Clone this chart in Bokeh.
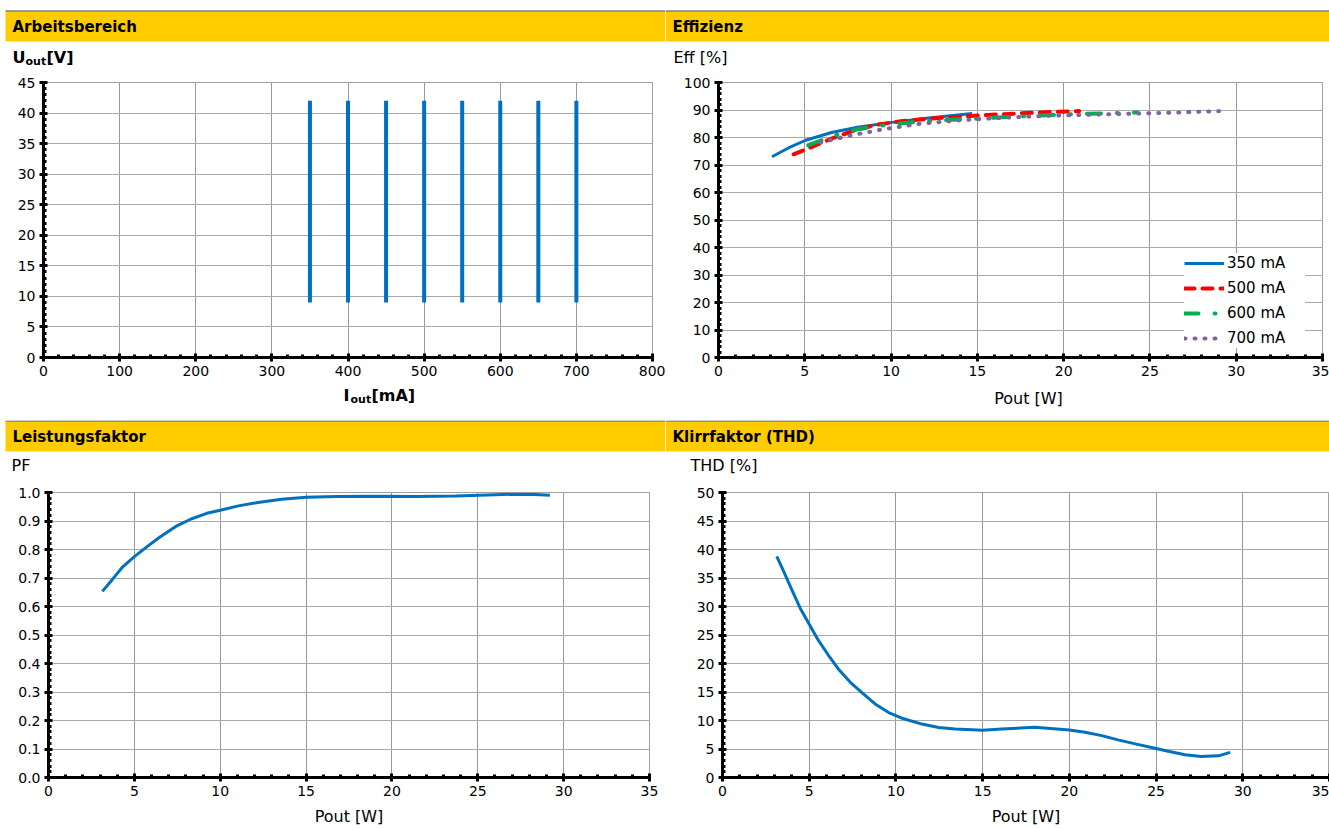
from bokeh.plotting import figure
from bokeh.models import Range1d, FixedTicker, Label, NumeralTickFormatter
from bokeh.layouts import column, row
from bokeh.embed import file_html
from bokeh.resources import INLINE

# ---------------- data ----------------
# Arbeitsbereich (operating window)
currents_ma = [350, 400, 450, 500, 550, 600, 650, 700]
u_min_v = [9, 9, 9, 9, 9, 9, 9, 9]
u_max_v = [42, 42, 42, 42, 42, 42, 42, 42]

# Effizienz
eff350_p = [3.1, 4.05, 5.05, 6.55, 8.05, 10.05, 12.05, 14.7]
eff350_e = [73.0, 76.2, 79.0, 81.8, 83.7, 85.5, 87.0, 88.7]
eff500_p = [4.35, 5.3, 6.55, 7.8, 9.05, 10.55, 12.55, 15.55, 18.55, 20.9]
eff500_e = [73.9, 76.3, 79.6, 82.4, 84.5, 85.9, 87.0, 88.2, 89.1, 89.6]
eff600_p = [5.2, 6.55, 8.05, 10.05, 12.05, 14.55, 17.55, 20.55, 24.3]
eff600_e = [77.2, 80.4, 83.0, 84.9, 86.0, 86.7, 87.7, 88.5, 89.1]
eff700_p = [5.9, 7.55, 9.55, 11.55, 14.05, 16.55, 19.05, 21.55, 24.05, 26.55, 29.0]
eff700_e = [78.2, 80.6, 83.0, 84.9, 86.3, 87.2, 87.9, 88.3, 88.7, 89.1, 89.6]
eff_labels = ["350 mA", "500 mA", "600 mA", "700 mA"]

# Leistungsfaktor
pf_p = [3.14, 3.72, 4.29, 5.0, 5.78, 6.47, 7.39, 8.3, 9.22, 10.0, 11.06, 12.2, 13.58, 15.0,
        16.8, 19.1, 21.4, 23.7, 26.0, 27.1, 28.3, 29.2]
pf_v = [0.653, 0.695, 0.737, 0.775, 0.812, 0.843, 0.880, 0.907, 0.927, 0.938, 0.953, 0.965, 0.976,
        0.983, 0.986, 0.987, 0.986, 0.988, 0.992, 0.994, 0.993, 0.990]

# Klirrfaktor (THD)
thd_p = [3.13, 3.52, 4.0, 4.48, 5.0, 5.54, 6.12, 6.69, 7.37, 8.04, 8.8, 9.58, 10.35, 11.5, 12.46,
         13.42, 15.0, 16.1, 18.0, 20.0, 20.9, 21.87, 22.8, 23.8, 25.0, 25.7, 26.67, 27.6, 28.6, 29.27]
thd_v = [38.8, 36.2, 32.9, 29.7, 26.9, 24.0, 21.4, 19.0, 16.7, 14.9, 12.9, 11.4, 10.4, 9.37, 8.78,
         8.49, 8.31, 8.5, 8.8, 8.35, 7.94, 7.35, 6.6, 5.9, 5.1, 4.6, 4.0, 3.7, 3.8, 4.4]

headers = ["Arbeitsbereich", "Effizienz", "Leistungsfaktor", "Klirrfaktor (THD)"]

# ---------------- style ----------------
FONT = "DejaVu Sans"
YELLOW = "#FFCC00"
BLUE = "#0070C0"
RED = "#FF0000"
GREEN = "#00B050"
PURPLE = "#8064A2"
GRID = "#A0A0A0"
LINE = "#404040"

LW = 665
RW = 664


def strip(width, height, y_line=None, y_top=None, y_bot=None, x0=0):
    s = figure(width=width, height=height, x_range=Range1d(0, width), y_range=Range1d(height, 0),
               x_axis_type=None, y_axis_type=None, output_backend="svg", toolbar_location=None,
               min_border=0, outline_line_color=None,
               background_fill_color="white", border_fill_color="white")
    s.grid.visible = False
    if y_top is not None:
        s.quad(left=[x0], right=[width], top=[y_top], bottom=[y_bot], fill_color=YELLOW, line_color=None)
        s.segment(x0=[x0], x1=[width], y0=[y_line], y1=[y_line], line_color=LINE, line_width=1)
    return s


def lab(s, x, y, text, size="16px", bold=False, align="left"):
    s.add_layout(Label(x=x, y=y, text=text, text_baseline="middle", text_align=align,
                       text_font=FONT, text_font_size=size,
                       text_font_style="bold" if bold else "normal", text_color="black"))


def chart(width, height, xr, yr, xt, xm, yt, ym, bl, br, bt, bb):
    p = figure(width=width, height=height, x_range=Range1d(*xr), y_range=Range1d(*yr),
               output_backend="svg", toolbar_location=None,
               min_border_left=bl, min_border_right=br, min_border_top=bt, min_border_bottom=bb,
               outline_line_color=GRID, background_fill_color="white", border_fill_color="white")
    xtick = FixedTicker(ticks=xt, minor_ticks=xm)
    ytick = FixedTicker(ticks=yt, minor_ticks=ym)
    p.xaxis.ticker = xtick
    p.yaxis.ticker = ytick
    p.xgrid.ticker = xtick
    p.ygrid.ticker = ytick
    for ax in (p.xaxis[0], p.yaxis[0]):
        ax.axis_line_width = 3
        ax.axis_line_color = "black"
        ax.major_tick_in = 4
        ax.major_tick_out = 4
        ax.major_tick_line_width = 3
        ax.major_tick_line_color = "black"
        ax.minor_tick_in = 3
        ax.minor_tick_out = 0
        ax.minor_tick_line_width = 3
        ax.minor_tick_line_color = "black"
        ax.major_label_text_font = FONT
        ax.major_label_text_font_size = "14px"
        ax.major_label_text_color = "black"
        ax.major_label_standoff = 4
        ax.axis_label_text_font = FONT
        ax.axis_label_text_font_size = "16px"
        ax.axis_label_text_font_style = "normal"
        ax.axis_label_text_color = "black"
        ax.axis_label_standoff = 8
    p.xgrid.grid_line_color = "#999999"
    p.ygrid.grid_line_color = "#AAAAAA"
    return p


xt = list(range(0, 36, 5))
xm = list(range(0, 36, 1))

# ================= band 1 =================
s1 = strip(LW, 72, 10.5, 11, 41, 5)
lab(s1, 12, 26, headers[0], "15px", True)
lab(s1, 12, 57, "U", "16px", True)
lab(s1, 25, 61, "out", "11px", True)
lab(s1, 46, 57, "[V]", "16px", True)

s2 = strip(RW, 72, 10.5, 11, 41, 0)
lab(s2, 7, 26, headers[1], "15px", True)
lab(s2, 8, 57, "Eff [%]", "16px")

# ---------- Arbeitsbereich ----------
p1 = chart(LW, 313, (0, 800), (0, 45), list(range(0, 801, 100)), list(range(0, 801, 20)),
           list(range(0, 46, 5)), list(range(0, 46, 1)), 43, 13, 10, 28)
p1.segment(x0=currents_ma, y0=u_min_v, x1=currents_ma, y1=u_max_v, line_color=BLUE, line_width=4)

# ---------- Effizienz ----------
p2 = chart(RW, 313, (0, 35), (0, 100), xt, xm, list(range(0, 101, 10)), list(range(0, 101, 2)),
           53, 7, 10, 28)
p2.line(eff350_p, eff350_e, line_color=BLUE, line_width=3, legend_label=eff_labels[0])
p2.line(eff500_p, eff500_e, line_color=RED, line_width=4, line_dash="10 8", line_cap="round",
        legend_label=eff_labels[1])
p2.line(eff600_p, eff600_e, line_color=GREEN, line_width=4, line_dash="14 16 1 16", line_cap="round",
        legend_label=eff_labels[2])
p2.line(eff700_p, eff700_e, line_color=PURPLE, line_width=4, line_dash="1 9", line_cap="round",
        legend_label=eff_labels[3])
lg = p2.legend[0]
lg.location = (RW - 53 - 7 - 138, 9)
lg.margin = 0
lg.padding = 8
lg.spacing = 5
lg.glyph_width = 40
lg.glyph_height = 20
lg.label_height = 20
lg.label_width = 78
lg.label_standoff = 3
lg.label_text_font = FONT
lg.label_text_font_size = "15px"
lg.label_text_color = "black"
lg.border_line_color = None
lg.background_fill_color = "white"
lg.background_fill_alpha = 1.0

# x-axis titles of band 1
x1s = strip(LW, 35)
lab(x1s, 343, 10, "I", "16px", True)
lab(x1s, 350, 14, "out", "11px", True)
lab(x1s, 371, 10, "[mA]", "16px", True)
x2s = strip(RW, 35)
lab(x2s, 363, 13, "Pout [W]", "16px", False, "center")

# ================= band 2 =================
s3 = strip(LW, 62, 0.5, 1, 31, 5)
lab(s3, 12, 16, headers[2], "15px", True)
lab(s3, 11, 45, "PF", "16px")

s4 = strip(RW, 62, 0.5, 1, 31, 0)
lab(s4, 7, 16, headers[3], "15px", True)
lab(s4, 25, 45, "THD [%]", "16px")

# ---------- Leistungsfaktor ----------
p3 = chart(LW, 347, (0, 35), (0, 1.0), xt, xm,
           [round(i * 0.1, 1) for i in range(11)], [round(i * 0.02, 2) for i in range(51)],
           48, 16, 10, 52)
p3.yaxis.formatter = NumeralTickFormatter(format="0.0")
p3.xaxis.axis_label = "Pout [W]"
p3.line(pf_p, pf_v, line_color=BLUE, line_width=3)

# ---------- THD ----------
p4 = chart(RW, 347, (0, 35), (0, 50), xt, xm, list(range(0, 51, 5)), list(range(0, 51, 1)),
           57, 0, 10, 52)
p4.xaxis.axis_label = "Pout [W]"
p4.line(thd_p, thd_v, line_color=BLUE, line_width=3)

layout = column(
    row(s1, s2),
    row(p1, p2),
    row(x1s, x2s),
    row(s3, s4),
    row(p3, p4),
)

open("out.html", "w").write(file_html(layout, INLINE))
